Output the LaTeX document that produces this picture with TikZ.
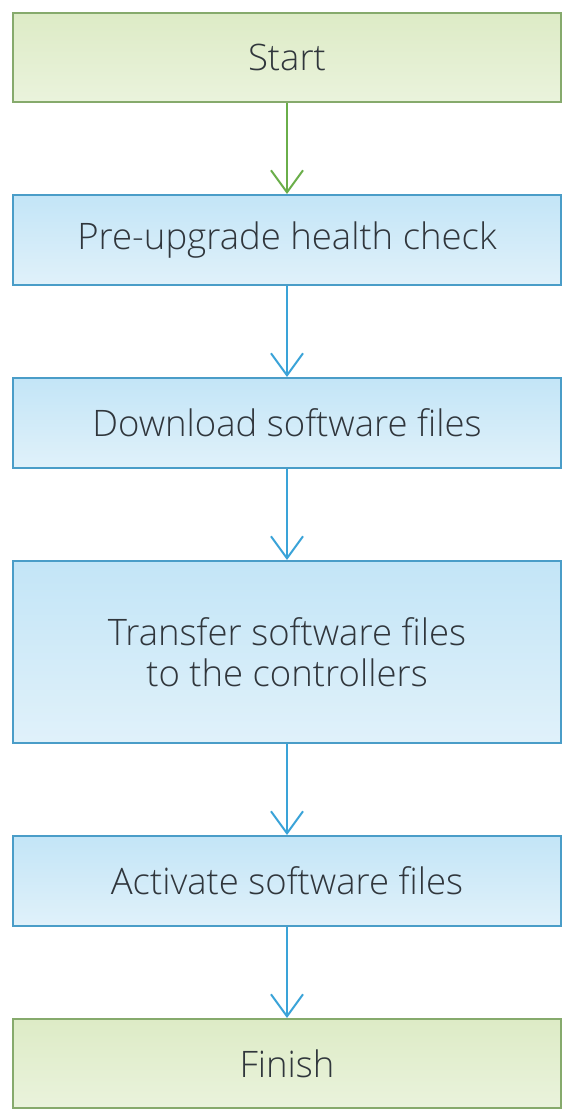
\documentclass[tikz,border=0pt]{standalone}
\usepackage{fontspec}
\setmainfont{Open Sans Light}
\usetikzlibrary{positioning,arrows.meta}
\definecolor{starttop}{HTML}{DDEBC6}
\definecolor{startbottom}{HTML}{EAF3DC}
\definecolor{startline}{HTML}{86AA6C}
\definecolor{steptop}{HTML}{C3E5F7}
\definecolor{stepbottom}{HTML}{E0F1FA}
\definecolor{stepline}{HTML}{4A9DC8}
\definecolor{greenarrow}{HTML}{6AAE4A}
\definecolor{bluearrow}{HTML}{3AA3D8}
\definecolor{boxtext}{HTML}{30363C}

\begin{document}
\begin{tikzpicture}[x=1pt, y=1pt, node distance=91pt,
    greenbox/.style={rectangle, draw=startline, line width=2pt, top color=starttop, bottom color=startbottom, minimum width=548pt, minimum height=89pt, text=boxtext, font=\fontsize{36.5}{41}\selectfont, align=center},
    bluebox/.style={greenbox, draw=stepline, top color=steptop, bottom color=stepbottom, minimum height=90pt},
    arrow/.style={-{Straight Barb[length=22pt, width=32pt]}, line width=2pt}]

    \useasboundingbox (0,0) rectangle (568,-1112);

    \node[greenbox] (start) at (287,-57.5) {Start};
    \node[bluebox, below=of start] (check) {Pre-upgrade health check};
    \node[bluebox, below=of check] (download) {Download software files};
    \node[bluebox, below=of download, minimum height=182pt] (transfer) {Transfer software files\\to the controllers};
    \node[bluebox, below=of transfer] (activate) {Activate software files};
    \node[greenbox, below=of activate] (finish) {Finish};

    \draw[arrow, greenarrow] (start) -- (check);
    \draw[arrow, bluearrow] (check) -- (download);
    \draw[arrow, bluearrow] (download) -- (transfer);
    \draw[arrow, bluearrow] (transfer) -- (activate);
    \draw[arrow, bluearrow] (activate) -- (finish);
\end{tikzpicture}
\end{document}
